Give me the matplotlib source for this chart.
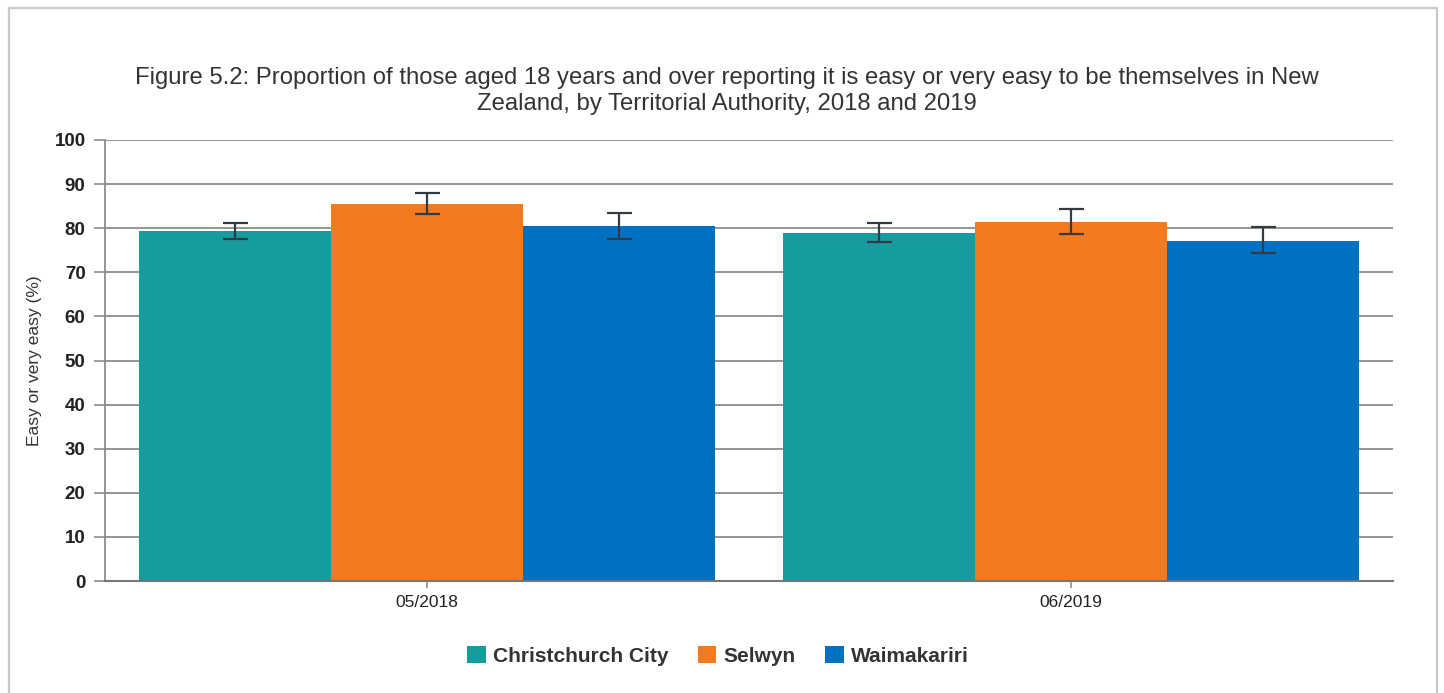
import matplotlib
matplotlib.use("Agg")
import matplotlib.pyplot as plt
from matplotlib.patches import Rectangle
import numpy as np

plt.rcParams['font.family'] = ['Liberation Sans', 'DejaVu Sans']

categories = ["05/2018", "06/2019"]
series = ["Christchurch City", "Selwyn", "Waimakariri"]
colors = ["#169b9f", "#f47a20", "#0070c0"]
values = {
    "Christchurch City": [79.4, 79.0],
    "Selwyn": [85.4, 81.5],
    "Waimakariri": [80.5, 77.2],
}
err_low = {
    "Christchurch City": [77.5, 76.9],
    "Selwyn": [83.2, 78.7],
    "Waimakariri": [77.6, 74.3],
}
err_high = {
    "Christchurch City": [81.1, 81.1],
    "Selwyn": [87.9, 84.4],
    "Waimakariri": [83.4, 80.3],
}
yticks = list(range(0, 101, 10))
title = ("Figure 5.2: Proportion of those aged 18 years and over reporting it is easy or very easy to be themselves in New\n"
         "Zealand, by Territorial Authority, 2018 and 2019")
ylabel = "Easy or very easy (%)"

W, H = 1444, 693
fig = plt.figure(figsize=(W / 100, H / 100), dpi=100)
fig.patch.set_facecolor("white")

# outer frame
fig.patches.append(Rectangle((8.5 / W, -0.1), (1437 - 8.5) / W, 1.1 - 8.5 / H,
                             transform=fig.transFigure, fill=False,
                             edgecolor="#c8c8c8", linewidth=1.6, zorder=0))

ax = fig.add_axes([105 / W, 1 - 581 / H, (1393 - 105) / W, (581 - 140) / H])

x = np.arange(len(categories))
bw = 0.298
for i, s in enumerate(series):
    pos = x + (i - 1) * bw
    v = np.array(values[s])
    lo = v - np.array(err_low[s])
    hi = np.array(err_high[s]) - v
    ax.bar(pos, v, width=bw, color=colors[i], label=s, zorder=2)
    ax.errorbar(pos, v, yerr=[lo, hi], fmt="none", ecolor="#333a44",
                elinewidth=1.6, capsize=9, capthick=1.6, zorder=3)

ax.set_xlim(-0.5, len(categories) - 0.5)
ax.set_ylim(0, 100)
ax.set_yticks(yticks)
ax.set_xticks(x)
ax.set_xticklabels(categories, fontsize=12.5, color="#222222")
ax.set_yticklabels([str(t) for t in yticks], fontsize=13.5, color="#222222", fontweight="bold")
ax.yaxis.grid(True, color="#8c8c8c", linewidth=1.3, zorder=1)
ax.set_axisbelow(True)
ax.tick_params(axis="y", length=8, width=1.2, color="#8c8c8c", pad=6)
ax.tick_params(axis="x", length=5, width=1.2, color="#8c8c8c", pad=5)
for sp in ["top", "right"]:
    ax.spines[sp].set_visible(False)
ax.spines["left"].set_color("#8c8c8c")
ax.spines["left"].set_linewidth(1.3)
ax.spines["bottom"].set_color("#777777")
ax.spines["bottom"].set_linewidth(1.5)

ax.set_ylabel(ylabel, fontsize=12.5, color="#333333")
ax.yaxis.set_label_coords((42 - 105) / (1393 - 105), 0.5)

fig.text(727 / W, 1 - 91 / H, title, ha="center", va="center", fontsize=17.2,
         color="#333333", linespacing=1.27)

leg = fig.legend(loc="center", bbox_to_anchor=(718 / W, 1 - 656 / H), ncol=3,
                 frameon=False, fontsize=15, handlelength=0.9, handleheight=0.9,
                 handletextpad=0.35, columnspacing=1.4)
for t in leg.get_texts():
    t.set_fontweight("bold")
    t.set_color("#333333")

fig.savefig("out.png", dpi=100, facecolor="white")
